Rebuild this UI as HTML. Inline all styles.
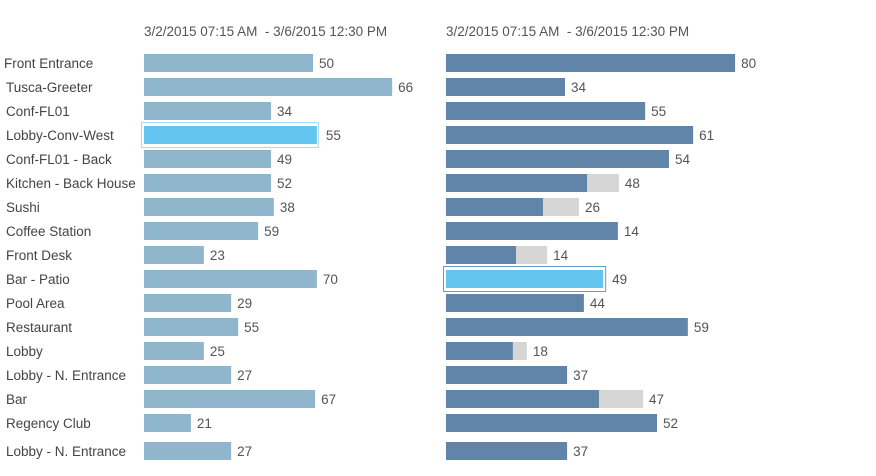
<!DOCTYPE html>
<html><head><meta charset="utf-8"><style>
html,body{margin:0;padding:0;background:#fff;width:876px;height:476px;overflow:hidden}
svg text{font-family:"Liberation Sans",sans-serif;font-size:13.5px}
</style></head><body>
<svg id="chart" width="876" height="476" xmlns="http://www.w3.org/2000/svg">
<text x="144" y="36" fill="#555" style="white-space:pre">3/2/2015 07:15 AM  - 3/6/2015 12:30 PM</text>
<text x="446" y="36" fill="#555" style="white-space:pre">3/2/2015 07:15 AM  - 3/6/2015 12:30 PM</text>
</svg>
<script>
const categories = ["Front Entrance","Tusca-Greeter","Conf-FL01","Lobby-Conv-West","Conf-FL01 - Back","Kitchen - Back House","Sushi","Coffee Station","Front Desk","Bar - Patio","Pool Area","Restaurant","Lobby","Lobby - N. Entrance","Bar","Regency Club","Lobby - N. Entrance"];
const leftBars = [48.3,70.9,36.3,49.4,36.3,36.3,37.1,32.6,17.1,49.4,24.9,26.9,17.1,24.9,48.9,13.4,24.9];
const leftLabels = [50,66,34,55,49,52,38,59,23,70,29,55,25,27,67,21,27];
const rightBars = [82.6,34,56.9,70.6,63.7,40.3,27.7,49.1,20,44.9,39.4,69.1,19.1,34.6,43.7,60.3,34.6];
const rightGrey = [0,0,0,0,0,49.4,38,0,28.9,0,0,0,23.1,0,56.3,0,0];
const rightLabels = [80,34,55,61,54,48,26,14,14,49,44,59,18,37,47,52,37];
const leftHighlight = 3, rightHighlight = 9;

const NS="http://www.w3.org/2000/svg";
const svg=document.getElementById('chart');
const xL=v=>v*3.5, xR=v=>v*3.5;
const rowY=i=> i<16 ? 54+24*i : 54+24*15+28;
function mk(tag,attrs){const e=document.createElementNS(NS,tag);for(const k in attrs)e.setAttribute(k,attrs[k]);svg.appendChild(e);return e;}

categories.forEach((c,i)=>{
  const y=rowY(i);
  const t=mk('text',{x:i===0?4:6,y:y+14,fill:'#444'});
  t.textContent=c;
  
  
  const lw=xL(leftBars[i]);
  if(i===leftHighlight){
    const b=mk('rect',{x:141.5,y:y-3.5,width:lw+4,height:25,fill:'#fff',stroke:'#a9d9f2','stroke-width':1});
    
    
  }
  const r=mk('rect',{x:144,y:y,width:lw,height:18,fill:i===leftHighlight?'#65c5f1':'#8fb6cc'});
  
  
  const lt=mk('text',{x:144+lw+(i===leftHighlight?9:6),y:y+14,fill:'#555'});
  lt.textContent=leftLabels[i];
  
  
  const rw=xR(rightBars[i]), gw=xR(rightGrey[i]);
  if(gw>0){
    const g=mk('rect',{x:446,y:y,width:gw,height:18,fill:'#d6d6d6'});
    
    
  }
  if(i===rightHighlight){
    const b=mk('rect',{x:443.5,y:y-3.5,width:rw+5,height:25,fill:'#fff',stroke:'#6a9cc0','stroke-width':1});
    
    
  }
  const rr=mk('rect',{x:446,y:y,width:rw,height:18,fill:i===rightHighlight?'#65c5f1':'#6185a8'});
  
  
  const rt=mk('text',{x:446+Math.max(rw,gw)+(i===rightHighlight?9:6),y:y+14,fill:'#555'});
  rt.textContent=rightLabels[i];
  
  
});
</script>
</body></html>
